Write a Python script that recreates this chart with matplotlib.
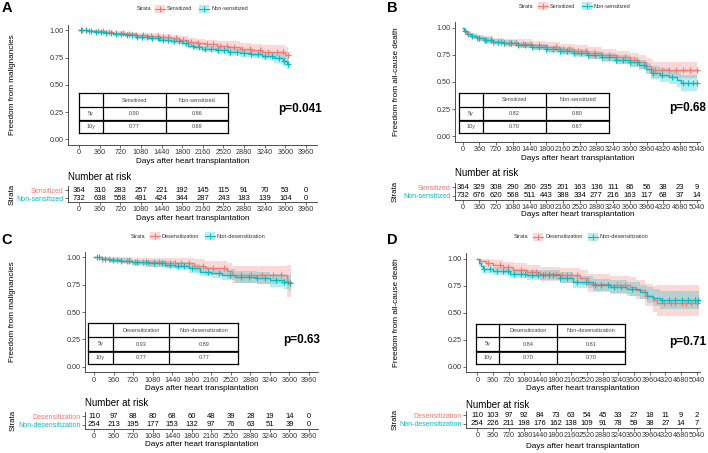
import numpy as np
import matplotlib.pyplot as plt
from matplotlib.lines import Line2D
from matplotlib.patches import Rectangle

plt.rcParams['font.family'] = ['Liberation Sans', 'DejaVu Sans']

RED = '#F8766D'
TEAL = '#00BFC4'
W, H = 708, 453

# ---------------- data ----------------
ticks_10y = [0, 360, 720, 1080, 1440, 1800, 2160, 2520, 2880, 3240, 3600, 3960]
ticks_14y = [0, 360, 720, 1080, 1440, 1800, 2160, 2520, 2880, 3240, 3600, 3960,
             4320, 4680, 5040]

# A: malignancies, sensitized vs non-sensitized
a_red_t = [0, 150, 300, 450, 600, 800, 1000, 1200, 1400, 1600, 1750, 1900, 2050,
           2200, 2400, 2600, 2800, 3000, 3200, 3400, 3600]
a_red_s = [1.0, 0.995, 0.99, 0.985, 0.975, 0.965, 0.955, 0.945, 0.935, 0.925, 0.91,
           0.895, 0.88, 0.87, 0.86, 0.85, 0.83, 0.82, 0.805, 0.80, 0.775]
a_red_lo = [1.0, 0.988, 0.979, 0.971, 0.958, 0.945, 0.932, 0.919, 0.906, 0.893, 0.875,
            0.857, 0.840, 0.827, 0.814, 0.801, 0.778, 0.764, 0.744, 0.735, 0.700]
a_red_hi = [1.0, 1.0, 1.0, 0.998, 0.993, 0.986, 0.978, 0.971, 0.964, 0.957, 0.945,
            0.933, 0.921, 0.913, 0.906, 0.899, 0.883, 0.876, 0.865, 0.865, 0.850]
a_red_cens = [60, 180, 330, 420, 520, 640, 760, 880, 1000, 1120, 1250, 1380, 1470,
              1560, 1700, 1820, 1960, 2080, 2230, 2330, 2460, 2580, 2700, 2850, 2980,
              3150, 3300, 3450, 3560, 3640]
a_teal_t = [0, 150, 300, 450, 600, 800, 1000, 1200, 1400, 1600, 1800, 1900, 2000,
            2150, 2400, 2600, 2800, 3000, 3200, 3400, 3550, 3630]
a_teal_s = [1.0, 0.993, 0.985, 0.975, 0.965, 0.955, 0.94, 0.93, 0.915, 0.90, 0.88,
            0.86, 0.845, 0.83, 0.815, 0.80, 0.79, 0.78, 0.765, 0.745, 0.72, 0.695]
a_teal_lo = [1.0, 0.987, 0.976, 0.963, 0.951, 0.939, 0.922, 0.910, 0.893, 0.876, 0.854,
             0.833, 0.816, 0.800, 0.783, 0.766, 0.754, 0.742, 0.725, 0.703, 0.675, 0.647]
a_teal_hi = [1.0, 0.999, 0.994, 0.987, 0.979, 0.971, 0.958, 0.950, 0.937, 0.924, 0.906,
             0.887, 0.874, 0.860, 0.847, 0.834, 0.826, 0.818, 0.805, 0.787, 0.765, 0.743]
a_teal_cens = [40, 120, 210, 300, 380, 470, 560, 650, 740, 830, 920, 1010, 1100, 1190,
               1280, 1370, 1460, 1550, 1650, 1750, 1870, 1980, 2090, 2200, 2310, 2420,
               2530, 2640, 2760, 2880, 3000, 3120, 3240, 3360, 3480, 3580, 3645]
a_risk_red = [364, 310, 283, 257, 221, 192, 145, 115, 91, 70, 53, 0]
a_risk_teal = [732, 638, 558, 491, 424, 344, 287, 243, 183, 139, 104, 0]
a_rates = [['0.90', '0.86'], ['0.77', '0.69']]

# B: all-cause death, sensitized vs non-sensitized
b_red_t = [0, 30, 90, 180, 300, 450, 650, 900, 1200, 1500, 1800, 2100, 2400, 2700,
           3000, 3300, 3600, 3800, 3950, 4050, 4100]
b_red_s = [1.0, 0.97, 0.94, 0.92, 0.90, 0.885, 0.87, 0.86, 0.85, 0.835, 0.82, 0.80,
           0.785, 0.765, 0.745, 0.725, 0.70, 0.68, 0.65, 0.62, 0.607]
b_red_lo = [1.0, 0.953, 0.916, 0.892, 0.869, 0.851, 0.834, 0.822, 0.810, 0.793, 0.776,
            0.754, 0.737, 0.714, 0.691, 0.668, 0.640, 0.617, 0.583, 0.549, 0.533]
b_red_hi = [1.0, 0.988, 0.965, 0.949, 0.932, 0.920, 0.907, 0.899, 0.891, 0.879, 0.867,
            0.849, 0.836, 0.819, 0.803, 0.787, 0.765, 0.749, 0.724, 0.700, 0.685]
b_red_cens = [120, 300, 480, 650, 820, 1000, 1150, 1300, 1480, 1650, 1820, 2000, 2150,
              2300, 2480, 2650, 2820, 3000, 3150, 3320, 3500, 3700, 4150, 4300, 4450,
              4600, 4750, 4900, 5040]
b_teal_t = [0, 30, 90, 180, 300, 450, 650, 900, 1200, 1500, 1800, 2100, 2400, 2700,
            3000, 3300, 3600, 3800, 3950, 4050, 4250, 4450, 4620, 4700]
b_teal_s = [1.0, 0.965, 0.94, 0.92, 0.90, 0.885, 0.87, 0.855, 0.84, 0.82, 0.80, 0.785,
            0.765, 0.745, 0.725, 0.705, 0.68, 0.655, 0.62, 0.58, 0.56, 0.545, 0.52, 0.49]
b_teal_lo = [1.0, 0.952, 0.923, 0.900, 0.878, 0.861, 0.845, 0.828, 0.812, 0.790, 0.769,
             0.752, 0.730, 0.708, 0.686, 0.664, 0.636, 0.608, 0.569, 0.523, 0.499,
             0.480, 0.450, 0.415]
b_teal_hi = [1.0, 0.978, 0.957, 0.940, 0.922, 0.909, 0.896, 0.883, 0.869, 0.851, 0.832,
             0.819, 0.801, 0.783, 0.766, 0.748, 0.727, 0.705, 0.675, 0.643, 0.625,
             0.612, 0.590, 0.560]
b_teal_cens = [60, 200, 350, 500, 600, 750, 900, 1050, 1200, 1350, 1500, 1650, 1800,
               1950, 2100, 2250, 2400, 2550, 2700, 2850, 3000, 3150, 3300, 3450, 3600,
               3750, 3900, 4100, 4300, 4500, 4750, 4850, 4950, 5040]
b_risk_red = [364, 329, 308, 290, 260, 235, 201, 163, 136, 111, 86, 56, 38, 23, 9]
b_risk_teal = [732, 676, 620, 568, 511, 443, 388, 334, 277, 216, 163, 117, 68, 37, 14]
b_rates = [['0.82', '0.80'], ['0.70', '0.67']]

# C: malignancies, desensitization vs non-desensitization
c_red_t = [0, 150, 300, 500, 700, 900, 1300, 1700, 1850, 2050, 2450, 2550, 3000, 3550]
c_red_s = [1.0, 0.99, 0.98, 0.97, 0.96, 0.955, 0.95, 0.945, 0.925, 0.90, 0.875, 0.84,
           0.835, 0.78]
c_red_lo = [1.0, 0.971, 0.953, 0.937, 0.921, 0.913, 0.905, 0.897, 0.870, 0.838, 0.806,
            0.763, 0.755, 0.635]
c_red_hi = [1.0, 1.0, 1.0, 1.0, 0.998, 0.996, 0.995, 0.993, 0.982, 0.966, 0.950, 0.925,
            0.922, 0.930]
c_red_cens = [150, 280, 420, 600, 760, 900, 1000, 1100, 1200, 1300, 1400, 1500, 1600,
              1750, 2000, 2200, 2400, 2700, 2900, 3100, 3300, 3450, 3580]
c_teal_t = [0, 150, 300, 500, 700, 1000, 1300, 1500, 1750, 1950, 2150, 2350, 2600, 3000,
            3250, 3500, 3600]
c_teal_s = [1.0, 0.99, 0.98, 0.97, 0.955, 0.945, 0.935, 0.925, 0.90, 0.87, 0.855, 0.84,
            0.82, 0.81, 0.79, 0.775, 0.765]
c_teal_lo = [1.0, 0.978, 0.963, 0.949, 0.929, 0.916, 0.903, 0.890, 0.861, 0.826, 0.808,
             0.790, 0.766, 0.753, 0.729, 0.710, 0.695]
c_teal_hi = [1.0, 1.0, 0.997, 0.991, 0.981, 0.974, 0.967, 0.960, 0.940, 0.915, 0.903,
             0.891, 0.875, 0.868, 0.853, 0.842, 0.837]
c_teal_cens = [60, 100, 200, 350, 500, 650, 800, 950, 1100, 1250, 1400, 1550, 1650,
               1800, 2100, 2300, 2500, 2700, 2850, 3000, 3150, 3350, 3500, 3610]
c_risk_red = [110, 97, 88, 80, 68, 60, 48, 39, 28, 19, 14, 0]
c_risk_teal = [254, 213, 195, 177, 153, 132, 97, 76, 63, 51, 39, 0]
c_rates = [['0.93', '0.89'], ['0.77', '0.77']]

# D: all-cause death, desensitization vs non-desensitization
d_red_t = [0, 60, 200, 370, 600, 830, 1130, 1440, 1900, 2350, 2550, 3050, 3500, 3650,
           3850, 4040, 4120]
d_red_s = [1.0, 0.98, 0.965, 0.94, 0.92, 0.90, 0.88, 0.86, 0.845, 0.825, 0.77, 0.755,
           0.74, 0.71, 0.66, 0.615, 0.595]
d_red_lo = [1.0, 0.954, 0.931, 0.896, 0.871, 0.846, 0.822, 0.798, 0.780, 0.756, 0.695,
            0.677, 0.659, 0.624, 0.566, 0.512, 0.470]
d_red_hi = [1.0, 1.0, 1.0, 0.987, 0.972, 0.957, 0.942, 0.927, 0.915, 0.900, 0.855, 0.843,
            0.832, 0.808, 0.770, 0.745, 0.757]
d_red_cens = [250, 520, 700, 1000, 1250, 1350, 1550, 1650, 1800, 1950, 2050, 2150, 2300,
              2700, 3200, 3400, 3900, 4300, 4450, 4550, 4700, 4800, 4900, 5040]
d_teal_t = [0, 30, 80, 140, 370, 750, 1130, 1900, 2200, 2660, 3050, 3430, 3740, 3890,
            4040, 4200]
d_teal_s = [1.0, 0.96, 0.93, 0.905, 0.885, 0.86, 0.845, 0.825, 0.785, 0.755, 0.74, 0.72,
            0.69, 0.66, 0.635, 0.615]
d_teal_lo = [1.0, 0.936, 0.899, 0.869, 0.846, 0.818, 0.800, 0.778, 0.734, 0.700, 0.683,
             0.660, 0.626, 0.592, 0.563, 0.540]
d_teal_hi = [1.0, 0.985, 0.962, 0.942, 0.926, 0.904, 0.892, 0.874, 0.839, 0.814, 0.801,
             0.785, 0.760, 0.736, 0.716, 0.700]
d_teal_cens = [150, 300, 450, 600, 700, 850, 1000, 1100, 1250, 1400, 1500, 1650, 1750,
               1900, 2050, 2300, 2500, 2700, 2850, 3000, 3150, 3300, 3550, 4250, 4400,
               4550, 4700, 4850, 5000, 5060]
d_risk_red = [110, 103, 97, 92, 84, 73, 63, 54, 45, 33, 27, 18, 11, 9, 2]
d_risk_teal = [254, 226, 211, 198, 176, 162, 138, 109, 91, 78, 59, 38, 27, 14, 7]
d_rates = [['0.84', '0.81'], ['0.70', '0.70']]

# ---------------- helpers ----------------
fig = plt.figure(figsize=(W / 100, H / 100), dpi=100)


def fx(x):
    return x / W


def fy(y):
    return 1 - y / H


def ftext(x, y, s, **kw):
    fig.text(fx(x), fy(y), s, **kw)


def fline(x0, y0, x1, y1, **kw):
    fig.add_artist(Line2D([fx(x0), fx(x1)], [fy(y0), fy(y1)], **kw))


def add_ax(l, t, r, b):
    ax = fig.add_axes([fx(l), fy(b), (r - l) / W, (b - t) / H])
    ax.spines[['top', 'right']].set_visible(False)
    for sp in ax.spines.values():
        sp.set_linewidth(0.6)
        sp.set_color('#333333')
    ax.tick_params(length=2, width=0.5, pad=1.2, labelsize=5.2, color='#333333',
                   labelcolor='#333333')
    return ax


def draw_curve(ax, t, s, lo, hi, end, cens, color):
    tt = t + [end]
    ax.fill_between(tt, lo + [lo[-1]], hi + [hi[-1]], step='post', color=color,
                    alpha=0.28, lw=0)
    ax.step(tt, s + [s[-1]], where='post', color=color, lw=1.0)
    idx = np.searchsorted(t, cens, side='right') - 1
    ax.plot(cens, np.array(s)[idx], ls='none', marker='+', color=color, ms=4, mew=0.8)


def legend(y, xs, names):
    ftext(xs[0], y, 'Strata', fontsize=4, color='#333333', va='center')
    for kx, name, col in zip(xs[1:], names, [RED, TEAL]):
        fig.add_artist(Rectangle((fx(kx), fy(y + 4)), 10 / W, 8 / H, color=col,
                                 alpha=0.28, lw=0))
        fline(kx, y, kx + 10, y, color=col, lw=0.8)
        fig.add_artist(Line2D([fx(kx + 5)], [fy(y)], marker='+', color=col, ms=5,
                              mew=0.7, ls='none'))
        ftext(kx + 12, y, name, fontsize=4, color='#333333', va='center')


def rate_table(cols, rows, names, rates):
    lw = 0.9
    for x in cols:
        fline(x, rows[0], x, rows[-1], color='black', lw=lw)
    for y in rows:
        fline(cols[0], y, cols[-1], y, color='black', lw=lw)
    fline(cols[0], rows[2] + 0.8, cols[-1], rows[2] + 0.8, color='black', lw=0.6)
    cx = [(cols[i] + cols[i + 1]) / 2 for i in range(3)]
    cy = [(rows[i] + rows[i + 1]) / 2 for i in range(3)]
    kw = dict(fontsize=4, color='#444444', ha='center', va='center')
    ftext(cx[1], cy[0], names[0], **kw)
    ftext(cx[2], cy[0], names[1], **kw)
    for r, lab in enumerate(['5y', '10y']):
        ftext(cx[0], cy[r + 1], lab, **kw)
        ftext(cx[1], cy[r + 1], rates[r][0], **kw)
        ftext(cx[2], cy[r + 1], rates[r][1], **kw)


panels = [
    dict(letter='A', lp=(7, 8), leg_y=9, leg_x=(137, 155, 199),
         names=['Sensitized', 'Non-sensitized'], ylabel='Freedom from malignancies',
         main=(68, 24.8, 317, 144.8), xlim=(-190, 4150), ticks=ticks_10y, ylab_x=13,
         strata_x=12,
         red=(a_red_t, a_red_s, a_red_lo, a_red_hi, 3650, a_red_cens),
         teal=(a_teal_t, a_teal_s, a_teal_lo, a_teal_hi, 3660, a_teal_cens),
         tab_c=[79, 102.7, 165.7, 228.3], tab_r=[93.3, 106.7, 120, 133.3], rates=a_rates,
         p='p=0.041', p_xy=(300, 109),
         risk=(68, 186, 317, 202), risk_title=177, risk_xlab=218,
         risk_red=a_risk_red, risk_teal=a_risk_teal),
    dict(letter='B', lp=(392, 8), leg_y=6, leg_x=(519, 538, 582),
         names=['Sensitized', 'Non-sensitized'], ylabel='Freedom from all-cause death',
         main=(455, 22.1, 700, 141.8), xlim=(-166, 5111), ticks=ticks_14y, ylab_x=397,
         strata_x=395,
         red=(b_red_t, b_red_s, b_red_lo, b_red_hi, 5050, b_red_cens),
         teal=(b_teal_t, b_teal_s, b_teal_lo, b_teal_hi, 5050, b_teal_cens),
         tab_c=[459.3, 482.7, 545.7, 609.3], tab_r=[92.7, 106.7, 120, 133.3],
         rates=b_rates, p='p=0.68', p_xy=(688, 108),
         risk=(455, 183, 700, 200), risk_title=173, risk_xlab=215,
         risk_red=b_risk_red, risk_teal=b_risk_teal),
    dict(letter='C', lp=(7, 240), leg_y=236, leg_x=(131, 150, 205),
         names=['Desensitization', 'Non-desensitization'],
         ylabel='Freedom from malignancies',
         main=(85, 252, 318, 372.2), xlim=(-166, 4125), ticks=ticks_10y, ylab_x=13,
         strata_x=13,
         red=(c_red_t, c_red_s, c_red_lo, c_red_hi, 3620, c_red_cens),
         teal=(c_teal_t, c_teal_s, c_teal_lo, c_teal_hi, 3620, c_teal_cens),
         tab_c=[88.3, 112.7, 169.3, 238.3], tab_r=[323.3, 337.3, 350.7, 364],
         rates=c_rates, p='p=0.63', p_xy=(302, 340),
         risk=(85, 412, 318, 429), risk_title=403, risk_xlab=445,
         risk_red=c_risk_red, risk_teal=c_risk_teal),
    dict(letter='D', lp=(392, 240), leg_y=237, leg_x=(514, 533, 588),
         names=['Desensitization', 'Non-desensitization'],
         ylabel='Freedom from all-cause death',
         main=(466, 253.3, 700, 372.4), xlim=(-260, 5116), ticks=ticks_14y, ylab_x=397,
         strata_x=395,
         red=(d_red_t, d_red_s, d_red_lo, d_red_hi, 5100, d_red_cens),
         teal=(d_teal_t, d_teal_s, d_teal_lo, d_teal_hi, 5100, d_teal_cens),
         tab_c=[476, 499.3, 556.7, 625], tab_r=[324, 337.3, 350.7, 364],
         rates=d_rates, p='p=0.71', p_xy=(688, 341.7),
         risk=(466, 411, 700, 428), risk_title=405, risk_xlab=447,
         risk_red=d_risk_red, risk_teal=d_risk_teal),
]

for p in panels:
    ftext(*p['lp'], p['letter'], fontsize=10.5, fontweight='bold', ha='center',
          va='center')
    legend(p['leg_y'], p['leg_x'], p['names'])

    l, t, r, b = p['main']
    ax = add_ax(l, t, r, b)
    draw_curve(ax, *p['red'], RED)
    draw_curve(ax, *p['teal'], TEAL)
    ax.set_xlim(*p['xlim'])
    ax.set_ylim(-0.05, 1.05)
    ax.set_xticks(p['ticks'])
    ax.set_yticks([0, 0.25, 0.5, 0.75, 1.0])
    ax.set_yticklabels(['0.00', '0.25', '0.50', '0.75', '1.00'])
    ftext((l + r) / 2, b + 16.5, 'Days after heart transplantation', fontsize=5.9,
          ha='center', va='center')
    ftext(p['ylab_x'], (t + b) / 2, p['ylabel'], fontsize=5.9, rotation=90,
          ha='center', va='center')
    rate_table(p['tab_c'], p['tab_r'], p['names'], p['rates'])
    ftext(*p['p_xy'], p['p'], fontsize=8.5, fontweight='bold', ha='center',
          va='center')

    # number at risk table
    l, t, r, b = p['risk']
    rax = add_ax(l, t, r, b)
    rax.set_xlim(*p['xlim'])
    rax.set_ylim(0.5, 2.5)
    rax.set_xticks(p['ticks'])
    for tk, n in zip(p['ticks'], p['risk_red']):
        rax.text(tk, 2, str(n), fontsize=5.5, ha='center', va='center')
    for tk, n in zip(p['ticks'], p['risk_teal']):
        rax.text(tk, 1, str(n), fontsize=5.5, ha='center', va='center')
    rax.set_yticks([1, 2])
    rax.set_yticklabels([p['names'][1], p['names'][0]], fontsize=5.0)
    for lab, col in zip(rax.get_yticklabels(), [TEAL, RED]):
        lab.set_color(col)
    ftext(l, p['risk_title'], 'Number at risk', fontsize=7, va='center')
    ftext((l + r) / 2, p['risk_xlab'], 'Days after heart transplantation',
          fontsize=5.9, ha='center', va='center')
    ftext(p['strata_x'], (t + b) / 2, 'Strata', fontsize=5.6, rotation=90,
          ha='center', va='center')

fig.savefig('out.png', dpi=100)
